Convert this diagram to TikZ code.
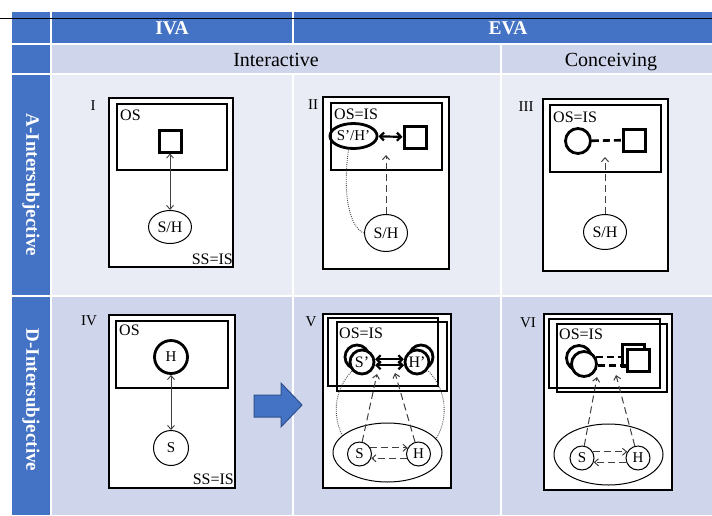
\documentclass[tikz,border=0pt]{standalone}
\usepackage{fontspec}
\setmainfont{Liberation Serif}
\usetikzlibrary{shapes.geometric,arrows.meta}
\definecolor{hdrblue}{HTML}{4472C4}
\definecolor{arrowedge}{HTML}{2F528F}
\definecolor{rowA}{HTML}{E9EBF5}
\definecolor{rowB}{HTML}{CFD5EA}
\definecolor{lngray}{HTML}{404040}
\begin{document}
\begin{tikzpicture}[x=1pt,y=-1pt,
  hdr/.style={text=white, font=\fontsize{19.5}{22}\selectfont\bfseries, inner sep=0},
  sub/.style={font=\fontsize{20}{22}\selectfont, inner sep=0, anchor=base},
  rowlbl/.style={text=white, font=\fontsize{19}{22}\selectfont\bfseries, rotate=-90, inner sep=0},
  num/.style={font=\fontsize{15}{17}\selectfont, inner sep=0},
  lbl/.style={font=\fontsize{16}{18}\selectfont, inner sep=0},
  outerbox/.style={draw, fill=white, line width=1.1pt},
  innerbox/.style={draw, line width=1.2pt},
  sqthick/.style={shape=rectangle, draw=black, line width=3pt, minimum width=22pt, minimum height=22pt, inner sep=0pt, fill=white},
  circthick/.style={draw, circle, line width=2.8pt, inner sep=0, fill=white, font=\fontsize{16}{18}\selectfont},
  circthin/.style={draw, circle, line width=1pt, inner sep=0, fill=white, font=\fontsize{15}{17}\selectfont},
  ellthin/.style={draw, ellipse, line width=1pt, inner sep=0, fill=white, font=\fontsize{16}{18}\selectfont},
  thinarrow/.style={draw=lngray, line width=0.9pt, {Straight Barb[length=4pt,width=7pt]}-{Straight Barb[length=4pt,width=7pt]}},
  dasharrow/.style={draw=lngray, line width=1pt, dash pattern=on 7pt off 4pt, -{Straight Barb[length=4pt,width=7pt]}},
  thickbi/.style={line width=2.2pt, {Straight Barb[length=4pt,width=8pt]}-{Straight Barb[length=4pt,width=8pt]}},
  thickdash/.style={line width=2.6pt, dash pattern=on 7pt off 4pt},
  dotline/.style={draw=lngray, line width=0.9pt, dash pattern=on 0.9pt off 1.2pt}
]
\useasboundingbox (0,0) rectangle (712,515);
\fill[white] (0,0) rectangle (712,515);
% ---- table cells
\fill[hdrblue] (12,12) rectangle (50,43);
\fill[hdrblue] (52,12) rectangle (292,43);
\fill[hdrblue] (294,12) rectangle (712,43);
\fill[hdrblue] (12,45) rectangle (50,73);
\fill[rowB] (52,45) rectangle (500,73);
\fill[rowB] (502,45) rectangle (712,73);
\fill[hdrblue] (12,75) rectangle (50,295);
\fill[rowA] (52,75) rectangle (292,295);
\fill[rowA] (294,75) rectangle (500,295);
\fill[rowA] (502,75) rectangle (712,295);
\fill[hdrblue] (12,297) rectangle (50,515);
\fill[rowB] (52,297) rectangle (292,515);
\fill[rowB] (294,297) rectangle (500,515);
\fill[rowB] (502,297) rectangle (712,515);
% top rule
\draw[line width=1pt] (0,18) -- (712,18);
% headers
\node[hdr] (iva) at (172,28) {IVA};
\node[hdr] (eva) at (508,28) {EVA};
\node[sub] (inter) at (276,66) {Interactive};
\node[sub] (conc) at (611,66) {Conceiving};
\node[rowlbl] (rowa) at (31,185) {A-Intersubjective};
\node[rowlbl] (rowd) at (31,400) {D-Intersubjective};

% ---- cell I
\node[num] (nI) at (93,106) {I};
\draw[outerbox] (109,98) rectangle (233,267);
\draw[innerbox] (117,104) rectangle (227,170);
\node[lbl, anchor=west] (osI) at (120,115) {OS};
\node[sqthick] (sq1) at (170,141) {};
\node[ellthin, minimum width=43pt, minimum height=33pt] (sh1) at (170,227) {S/H};
\node[lbl, anchor=base east] (ssI) at (233,264) {SS=IS};
\draw[thinarrow] (sq1) -- (sh1);

% ---- cell II
\node[num] (nII) at (313,105) {II};
\draw[outerbox] (323,97) rectangle (449,269);
\draw[innerbox] (331,103) rectangle (442,170);
\node[lbl, anchor=west] (osII) at (334,114) {OS=IS};
\node[draw, ellipse, line width=2.8pt, inner sep=0, minimum width=38pt, minimum height=25pt, font=\fontsize{15}{17}\selectfont] (sh2p) at (353.5,136) {S’/H’};
\node[sqthick] (sq2) at (415,137) {};
\draw[thickbi] (sh2p) -- (sq2);
\node[ellthin, minimum width=43pt, minimum height=37pt] (sh2) at (386,233) {S/H};
\coordinate (t2) at (386,155);
\draw[dasharrow] (sh2) -- (t2);
\draw[dotline] (sh2p.250) .. controls (342,195) and (350,228) .. (sh2.west);

% ---- cell III
\node[num] (nIII) at (526,107) {III};
\draw[outerbox] (543,99) rectangle (668,271);
\draw[innerbox] (550,105) rectangle (661,172);
\node[lbl, anchor=west] (osIII) at (553,117) {OS=IS};
\node[circthick, minimum size=25pt] (c3) at (578,141) {};
\node[sqthick] (sq3) at (634,140) {};
\draw[thickdash] (c3) -- (sq3);
\node[ellthin, minimum width=43pt, minimum height=35pt] (sh3) at (605,232) {S/H};
\coordinate (t3) at (605,157);
\draw[dasharrow] (sh3) -- (t3);

% ---- cell IV
\node[num] (nIV) at (89,321) {IV};
\draw[outerbox] (109,315) rectangle (235,488);
\draw[innerbox] (116,321) rectangle (228,388);
\node[lbl, anchor=west] (osIV) at (119,330) {OS};
\node[circthick, minimum size=33pt, font=\fontsize{15}{17}\selectfont] (h4) at (171,357) {H};
\node[circthin, minimum size=35pt] (s4) at (171,448) {S};
\node[lbl, anchor=base east] (ssIV) at (234,484) {SS=IS};
\draw[thinarrow] (h4) -- (s4);

% ---- block arrow
\draw[fill=hdrblue, draw=arrowedge, line width=1pt] (254,395) -- (281,395) -- (281,383) -- (302,405) -- (281,427) -- (281,417) -- (254,417) -- cycle;

% ---- cell V
\node[num] (nV) at (311,322) {V};
\draw[outerbox] (323,314) rectangle (451,488);
\draw[innerbox] (328,318) rectangle (438,386);
\draw[innerbox] (337,322) rectangle (447,391);
\node[lbl, anchor=west] (osV) at (339,333) {OS=IS};
\draw[dotline] (352,371) arc[start angle=225, end angle=-45, x radius=54, y radius=55];
\node[circthick, minimum size=24pt] (sp5b) at (357,357) {};
\node[circthick, minimum size=24pt] (sp5) at (362,362) {S’};
\node[circthick, minimum size=24pt] (hp5b) at (421,357) {};
\node[circthick, minimum size=24pt] (hp5) at (417,362) {H’};
\draw[thickbi] (sp5.12) -- (hp5.168);
\draw[thickbi] (sp5.-14) -- (hp5.194);
\node[ellthin, minimum width=109pt, minimum height=59pt] (e5) at (387.5,452.5) {};
\node[circthin, minimum size=24pt] (s5) at (359.5,454) {S};
\node[circthin, minimum size=24pt] (h5) at (418.5,454) {H};
\coordinate (t5a) at (377,374);
\coordinate (t5b) at (395,373);
\draw[dasharrow] (s5) -- (t5a);
\draw[dasharrow] (h5) -- (t5b);
\draw[dasharrow] (s5.30) -- (h5.150);
\draw[dasharrow] (h5.200) -- (s5.-20);

% ---- cell VI
\node[num] (nVI) at (528,323) {VI};
\draw[outerbox] (544,314) rectangle (672,490);
\draw[innerbox] (549,319) rectangle (660,388);
\draw[innerbox] (557,324) rectangle (667,392);
\node[lbl, anchor=west] (osVI) at (559,334) {OS=IS};
\node[circthick, minimum size=25pt] (c6b) at (579,358) {};
\node[circthick, minimum size=25pt] (c6) at (584,364) {};
\node[sqthick] (q6b) at (633,355.5) {};
\node[sqthick] (q6) at (638.5,360.5) {};
\draw[thickdash] (c6.30) -- (c6.30 -| q6b.west);
\draw[thickdash] (c6.-5) -- (c6.-5 -| q6.west);
\node[ellthin, minimum width=109pt, minimum height=61pt] (e6) at (608.5,454.5) {};
\node[circthin, minimum size=24pt] (s6) at (582,458) {S};
\node[circthin, minimum size=24pt] (h6) at (638,458) {H};
\coordinate (t6a) at (597,377);
\coordinate (t6b) at (616,375);
\draw[dasharrow] (s6) -- (t6a);
\draw[dasharrow] (h6) -- (t6b);
\draw[dasharrow] (s6.30) -- (h6.150);
\draw[dasharrow] (h6.200) -- (s6.-20);
\end{tikzpicture}
\end{document}
